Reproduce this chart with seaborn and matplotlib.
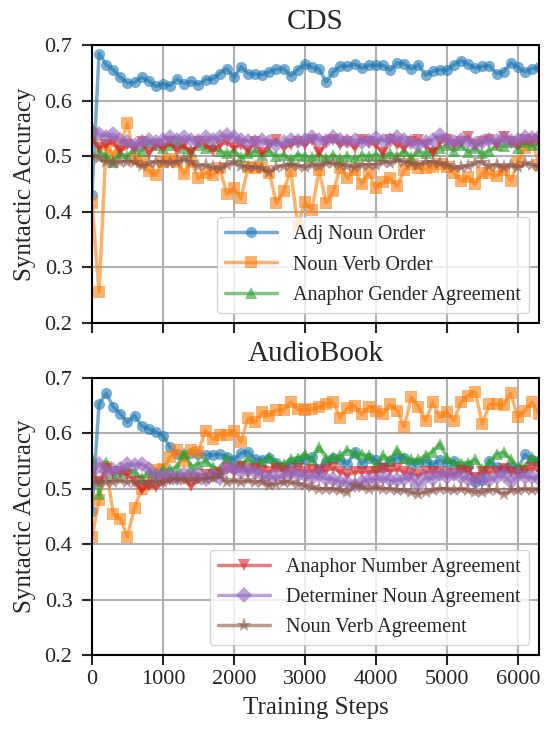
import matplotlib
matplotlib.use("Agg")
import matplotlib.pyplot as plt
import pandas as pd
import seaborn as sns

# Steps de treino (a cada 100)
steps = list(range(0, 6400, 100))

# CDS
cds_adj_noun_order = [
    0.43, 0.685, 0.665, 0.656, 0.642, 0.632, 0.633, 0.642, 0.636, 0.626,
    0.631, 0.627, 0.639, 0.631, 0.635, 0.629, 0.638, 0.639, 0.649, 0.658,
    0.642, 0.661, 0.649, 0.648, 0.647, 0.652, 0.657, 0.658, 0.645, 0.656,
    0.666, 0.660, 0.657, 0.634, 0.652, 0.662, 0.662, 0.666, 0.659, 0.664,
    0.664, 0.664, 0.655, 0.668, 0.667, 0.657, 0.665, 0.646, 0.653, 0.656,
    0.655, 0.665, 0.672, 0.666, 0.659, 0.662, 0.663, 0.649, 0.652, 0.668,
    0.660, 0.652, 0.658, 0.660]
cds_noun_verb_order = [
    0.415, 0.256, 0.520, 0.500, 0.520, 0.560, 0.495, 0.490, 0.473, 0.466,
    0.490, 0.495, 0.490, 0.468, 0.490, 0.460, 0.470, 0.466, 0.478, 0.432,
    0.443, 0.424, 0.480, 0.478, 0.480, 0.470, 0.415, 0.437, 0.474, 0.375,
    0.418, 0.403, 0.475, 0.416, 0.437, 0.479, 0.460, 0.475, 0.450, 0.470,
    0.443, 0.453, 0.460, 0.446, 0.475, 0.486, 0.478, 0.478, 0.480, 0.486,
    0.480, 0.470, 0.455, 0.463, 0.450, 0.470, 0.470, 0.465, 0.475, 0.455,
    0.490, 0.515, 0.530, 0.485]
cds_anaphor_gender = [
    0.553, 0.510, 0.500, 0.490, 0.505, 0.500, 0.515, 0.510, 0.525, 0.520,
    0.515, 0.520, 0.525, 0.515, 0.510, 0.520, 0.515, 0.518, 0.510, 0.505,
    0.510, 0.498, 0.505, 0.510, 0.503, 0.510, 0.500, 0.503, 0.495, 0.503,
    0.500, 0.498, 0.503, 0.497, 0.502, 0.497, 0.500, 0.496, 0.502, 0.500,
    0.503, 0.500, 0.505, 0.500, 0.510, 0.498, 0.510, 0.505, 0.512, 0.515,
    0.520, 0.510, 0.520, 0.508, 0.515, 0.505, 0.510, 0.520, 0.518, 0.525,
    0.515, 0.525, 0.520, 0.522]
cds_anaphor_number = [
    0.530, 0.515, 0.520, 0.525, 0.510, 0.520, 0.515, 0.525, 0.505, 0.520,
    0.515, 0.525, 0.510, 0.520, 0.505, 0.525, 0.520, 0.510, 0.520, 0.525,
    0.515, 0.520, 0.510, 0.525, 0.505, 0.520, 0.530, 0.515, 0.520, 0.525,
    0.520, 0.530, 0.505, 0.525, 0.530, 0.520, 0.525, 0.515, 0.530, 0.525,
    0.520, 0.505, 0.530, 0.520, 0.515, 0.525, 0.530, 0.520, 0.505, 0.525,
    0.530, 0.520, 0.525, 0.535, 0.520, 0.525, 0.530, 0.520, 0.535, 0.525,
    0.520, 0.530, 0.525, 0.530]
cds_determiner_noun = [
    0.545, 0.540, 0.535, 0.540, 0.530, 0.525, 0.520, 0.525, 0.530, 0.525,
    0.530, 0.535, 0.530, 0.535, 0.530, 0.528, 0.535, 0.530, 0.535, 0.538,
    0.535, 0.530, 0.528, 0.525, 0.530, 0.525, 0.520, 0.525, 0.530, 0.528,
    0.530, 0.535, 0.530, 0.528, 0.535, 0.530, 0.528, 0.530, 0.525, 0.528,
    0.532, 0.528, 0.530, 0.535, 0.530, 0.525, 0.520, 0.525, 0.530, 0.538,
    0.530, 0.525, 0.530, 0.528, 0.522, 0.525, 0.530, 0.528, 0.532, 0.528,
    0.530, 0.535, 0.532, 0.535]
cds_noun_verb_agr = [
    0.500, 0.497, 0.490, 0.487, 0.490, 0.490, 0.490, 0.483, 0.487, 0.490,
    0.490, 0.488, 0.490, 0.495, 0.490, 0.483, 0.484, 0.480, 0.478, 0.485,
    0.490, 0.483, 0.480, 0.480, 0.478, 0.472, 0.480, 0.483, 0.485, 0.483,
    0.480, 0.485, 0.483, 0.488, 0.487, 0.485, 0.483, 0.480, 0.485, 0.484,
    0.485, 0.490, 0.488, 0.493, 0.490, 0.487, 0.485, 0.490, 0.490, 0.487,
    0.485, 0.480, 0.480, 0.483, 0.488, 0.490, 0.482, 0.485, 0.480, 0.485,
    0.480, 0.487, 0.485, 0.480]

# AudioBook
ab_adj_noun_order = [
    0.460, 0.653, 0.672, 0.648, 0.635, 0.620, 0.632, 0.613, 0.608, 0.602,
    0.596, 0.575, 0.562, 0.561, 0.564, 0.562, 0.561, 0.561, 0.562, 0.558,
    0.552, 0.564, 0.567, 0.553, 0.552, 0.556, 0.547, 0.540, 0.547, 0.550,
    0.554, 0.557, 0.535, 0.548, 0.555, 0.552, 0.545, 0.566, 0.545, 0.556,
    0.552, 0.540, 0.550, 0.556, 0.556, 0.547, 0.547, 0.550, 0.543, 0.552,
    0.547, 0.550, 0.538, 0.541, 0.512, 0.515, 0.550, 0.540, 0.535, 0.540,
    0.535, 0.562, 0.552, 0.548]
ab_noun_verb_order = [
    0.413, 0.479, 0.540, 0.455, 0.446, 0.414, 0.466, 0.500, 0.510, 0.533,
    0.535, 0.557, 0.569, 0.550, 0.570, 0.567, 0.605, 0.590, 0.597, 0.597,
    0.605, 0.585, 0.627, 0.620, 0.638, 0.632, 0.642, 0.642, 0.656, 0.643,
    0.642, 0.644, 0.647, 0.653, 0.656, 0.628, 0.646, 0.650, 0.634, 0.648,
    0.641, 0.634, 0.652, 0.641, 0.612, 0.665, 0.648, 0.622, 0.656, 0.629,
    0.638, 0.623, 0.656, 0.668, 0.674, 0.617, 0.652, 0.652, 0.651, 0.672,
    0.629, 0.641, 0.656, 0.635]
ab_anaphor_gender = [
    0.555, 0.490, 0.548, 0.525, 0.530, 0.535, 0.530, 0.520, 0.530, 0.525,
    0.535, 0.535, 0.540, 0.564, 0.540, 0.545, 0.550, 0.540, 0.535, 0.556,
    0.540, 0.545, 0.554, 0.545, 0.548, 0.558, 0.547, 0.545, 0.554, 0.556,
    0.563, 0.552, 0.575, 0.556, 0.558, 0.560, 0.570, 0.565, 0.562, 0.560,
    0.540, 0.560, 0.552, 0.570, 0.556, 0.553, 0.553, 0.560, 0.567, 0.581,
    0.556, 0.547, 0.547, 0.547, 0.553, 0.535, 0.547, 0.563, 0.566, 0.553,
    0.540, 0.540, 0.558, 0.553]
ab_anaphor_number = [
    0.528, 0.512, 0.535, 0.530, 0.530, 0.525, 0.512, 0.497, 0.505, 0.503,
    0.512, 0.515, 0.518, 0.518, 0.505, 0.518, 0.525, 0.525, 0.528, 0.535,
    0.532, 0.540, 0.532, 0.535, 0.532, 0.530, 0.535, 0.532, 0.530, 0.535,
    0.530, 0.533, 0.530, 0.533, 0.537, 0.530, 0.524, 0.530, 0.530, 0.530,
    0.530, 0.535, 0.532, 0.535, 0.530, 0.527, 0.524, 0.530, 0.530, 0.530,
    0.524, 0.527, 0.532, 0.530, 0.520, 0.530, 0.530, 0.530, 0.535, 0.530,
    0.527, 0.532, 0.537, 0.532]
ab_determiner_noun = [
    0.530, 0.545, 0.530, 0.533, 0.536, 0.545, 0.542, 0.545, 0.536, 0.524,
    0.524, 0.524, 0.520, 0.527, 0.524, 0.527, 0.518, 0.524, 0.520, 0.539,
    0.536, 0.530, 0.533, 0.530, 0.524, 0.518, 0.524, 0.520, 0.530, 0.524,
    0.524, 0.520, 0.524, 0.518, 0.518, 0.512, 0.512, 0.506, 0.512, 0.518,
    0.515, 0.521, 0.515, 0.515, 0.518, 0.521, 0.506, 0.521, 0.518, 0.527,
    0.521, 0.527, 0.521, 0.518, 0.515, 0.518, 0.515, 0.521, 0.524, 0.512,
    0.524, 0.521, 0.521, 0.518]
ab_noun_verb_agr = [
    0.510, 0.512, 0.512, 0.512, 0.515, 0.512, 0.512, 0.512, 0.512, 0.512,
    0.512, 0.515, 0.518, 0.515, 0.518, 0.515, 0.518, 0.520, 0.524, 0.512,
    0.515, 0.512, 0.515, 0.512, 0.512, 0.506, 0.509, 0.512, 0.512, 0.509,
    0.506, 0.503, 0.500, 0.500, 0.500, 0.497, 0.494, 0.506, 0.503, 0.500,
    0.503, 0.500, 0.500, 0.497, 0.497, 0.494, 0.491, 0.494, 0.497, 0.500,
    0.500, 0.497, 0.500, 0.497, 0.494, 0.494, 0.497, 0.497, 0.491, 0.497,
    0.497, 0.500, 0.497, 0.500]

labels = ["Adj Noun Order", "Noun Verb Order", "Anaphor Gender Agreement",
          "Anaphor Number Agreement", "Determiner Noun Agreement", "Noun Verb Agreement"]
markers = ["o", "s", "^", "v", "D", "*"]
colors = sns.color_palette("tab10", 6)

panels = [
    ("CDS", [cds_adj_noun_order, cds_noun_verb_order, cds_anaphor_gender,
             cds_anaphor_number, cds_determiner_noun, cds_noun_verb_agr]),
    ("AudioBook", [ab_adj_noun_order, ab_noun_verb_order, ab_anaphor_gender,
                   ab_anaphor_number, ab_determiner_noun, ab_noun_verb_agr]),
]

sns.set_style("ticks")
plt.rcParams["font.family"] = "serif"
plt.rcParams["font.serif"] = ["Liberation Serif", "DejaVu Serif"]

fig, axes = plt.subplots(2, 1, figsize=(5.44, 7.29), dpi=100, sharex=True)
fig.subplots_adjust(left=0.169, right=0.991, top=0.938, bottom=0.101, hspace=0.198)

for p, (ax, (title, series)) in enumerate(zip(axes, panels)):
    for i, vals in enumerate(series):
        df = pd.DataFrame({"step": steps, "acc": vals})
        sns.lineplot(data=df, x="step", y="acc", ax=ax, color=colors[i],
                     marker=markers[i], markersize=11 if markers[i] == "*" else 8,
                     markeredgewidth=0, linewidth=2.5, alpha=0.6, label=labels[i])
    ax.set_title(title, fontsize=21, pad=12)
    ax.set_xlim(0, 6300)
    ax.set_ylim(0.2, 0.7)
    ax.set_yticks([0.2, 0.3, 0.4, 0.5, 0.6, 0.7])
    ax.set_xticks([0, 1000, 2000, 3000, 4000, 5000, 6000])
    ax.grid(True, color="#b0b0b0", linewidth=1.5)
    ax.set_ylabel("Syntactic Accuracy", fontsize=18, labelpad=6)
    ax.set_xlabel("")
    ax.tick_params(labelsize=16, width=1.5, length=7)
    ax.tick_params(axis="y", pad=7)
    for s in ax.spines.values():
        s.set_linewidth(1.5)
        s.set_color("black")
    h, l = ax.get_legend_handles_labels()
    idx = [0, 1, 2] if p == 0 else [3, 4, 5]
    ax.legend([h[k] for k in idx], [l[k] for k in idx], loc="lower right",
              fontsize=14.5, handlelength=2.6, framealpha=0.8, labelspacing=0.55)

axes[1].set_xlabel("Training Steps", fontsize=18, labelpad=6)

plt.savefig("out.png", dpi=100)
